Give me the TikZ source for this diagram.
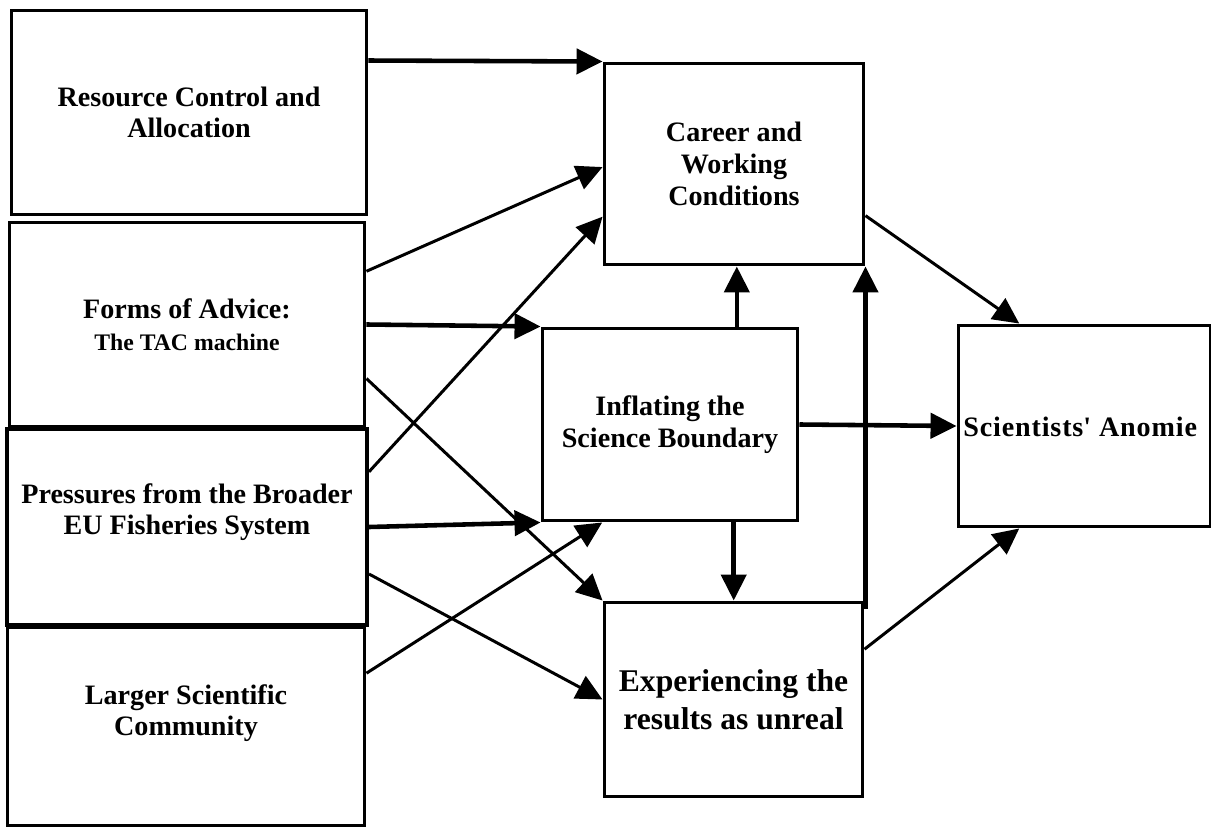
\documentclass[tikz,border=0pt]{standalone}
\usepackage{fontspec}
\setmainfont{Liberation Serif}
\usetikzlibrary{arrows.meta,calc}
\begin{document}
\begin{tikzpicture}[x=0.02cm,y=-0.02cm,
  box/.style={draw=black,line width=1.7pt,rectangle,inner sep=0pt,align=center,font=\bfseries\fontsize{16}{18}\selectfont},
  txt/.style={inner sep=0pt,align=center,font=\bfseries\fontsize{16}{18}\selectfont},
  arr/.style={line width=1.7pt,-{Triangle[length=0.52cm,width=0.5cm]}},
  thickarr/.style={line width=2.6pt,-{Triangle[length=0.52cm,width=0.5cm]}}]
\useasboundingbox[fill=white] (0,0) rectangle (1212,827);
% left boxes
\node[box,minimum width=7.12cm,minimum height=4.1cm] (res) at (189,112.5) {Resource Control and\\Allocation};
\node[box,minimum width=7.12cm,minimum height=4.1cm] (frm) at (187,324.5) {Forms of Advice:\\{\fontsize{13.5}{18}\selectfont The TAC machine}};
\node[box,line width=2.3pt,minimum width=7.2cm,minimum height=3.92cm] (pre) at (187,527) {};
\node[txt] (pret) at (187,512) {Pressures from the Broader\\EU Fisheries System};
\node[box,minimum width=7.16cm,minimum height=3.98cm] (lar) at (186,726.5) {};
\node[txt] (lart) at (186,713) {Larger Scientific\\Community};
% middle and right boxes
\node[box,minimum width=5.2cm,minimum height=4.04cm] (car) at (734,164) {Career and\\Working\\Conditions};
\node[box,minimum width=5.12cm,minimum height=3.86cm] (inf) at (670,424.5) {Inflating the\\Science Boundary};
\node[box,minimum width=5.18cm,minimum height=3.9cm,font=\bfseries\fontsize{18}{21.5}\selectfont] (exp) at (733.5,699.5) {Experiencing the\\results as unreal};
\node[box,minimum width=5.04cm,minimum height=4.04cm] (ano) at (1084,426) {};
\node[txt,anchor=west,font=\bfseries\fontsize{16}{20}\selectfont\addfontfeature{LetterSpace=3}] (anot) at (963,427) {Scientists\textquotesingle{} Anomie};
% connectors from left boxes
\draw[thickarr] ($(res.north east)!0.25!(res.south east)$) -- (car.north west);
\draw[arr] ($(frm.north east)!0.244!(frm.south east)$) -- ($(car.north west)!0.515!(car.south west)$);
\draw[thickarr] (frm.east) -- (inf.north west);
\draw[arr] ($(frm.north east)!0.76!(frm.south east)$) -- (exp.north west);
\draw[arr] ($(pre.north east)!0.224!(pre.south east)$) -- ($(car.north west)!0.757!(car.south west)$);
\draw[thickarr] (pre.east) -- (inf.south west);
\draw[arr] ($(pre.north east)!0.735!(pre.south east)$) -- (exp.west);
\draw[arr] ($(lar.north east)!0.236!(lar.south east)$) -- ($(inf.south west)!0.238!(inf.south east)$);
% middle connectors
\coordinate (up) at ($(inf.north west)!0.758!(inf.north east)$);
\coordinate (dn) at ($(inf.south west)!0.746!(inf.south east)$);
\coordinate (rt) at ($(exp.north east)+(0,8)$);
\draw[thickarr] (up) -- (up |- car.south);
\draw[thickarr] (dn) -- (dn |- exp.north);
\draw[thickarr] (rt -| car.south east) -- (car.south east);
\draw[thickarr] (inf.east) -- (ano.west);
% to anomie
\draw[arr] ($(car.north east)!0.752!(car.south east)$) -- ($(ano.north west)!0.246!(ano.north east)$);
\draw[arr] ($(exp.north east)!0.246!(exp.south east)$) -- ($(ano.south west)!0.246!(ano.south east)$);
\end{tikzpicture}
\end{document}
